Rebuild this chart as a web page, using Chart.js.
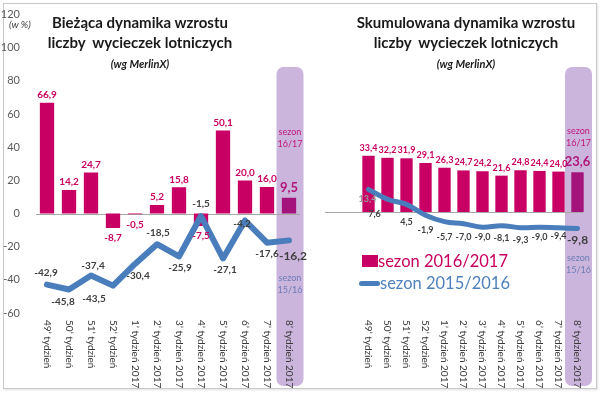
<!DOCTYPE html>
<html>
<head>
<meta charset="utf-8">
<script src="https://cdn.jsdelivr.net/npm/chart.js@4.4.1/dist/chart.umd.min.js"></script>
<style>
  body { margin: 0; background: #fff; font-family: Lato, "Open Sans", sans-serif; }
  #wrap { position: relative; width: 600px; height: 395px; overflow: hidden; }
  #frame { position: absolute; left: 3px; top: 3px; width: 592px; height: 384px; border: 1px solid #c9c9c9; box-shadow: 1px 1px 2px #e0e0e0; }
  canvas { position: absolute; top: 0; }
  .title { position: absolute; text-align: center; font-weight: bold; color: #1a1a1a; font-size: 15px; line-height: 20px; }
  .sub { font-size: 11px; font-style: italic; line-height: 16px; }
  #unit { position: absolute; left: 9px; top: 18px; font-size: 10px; font-style: italic; color: #404040; }
  .legend { position: absolute; font-size: 16.5px; line-height: 20px; white-space: nowrap; }
  .sw { display: inline-block; vertical-align: middle; }
</style>
</head>
<body>
<div id="wrap">
  <div id="frame"></div>
  <canvas id="leftChart" width="310" height="395" style="left:0"></canvas>
  <canvas id="rightChart" width="300" height="395" style="left:300px"></canvas>
  <div id="unit">(w %)</div>
  <div class="title" style="left:20px; width:240px; top:12px;">Bieżąca dynamika wzrostu<br>liczby&nbsp; wycieczek lotniczych<br><span class="sub">(wg MerlinX)</span></div>
  <div class="title" style="left:346px; width:240px; top:12px;">Skumulowana dynamika wzrostu<br>liczby&nbsp; wycieczek lotniczych<br><span class="sub">(wg MerlinX)</span></div>
  <div class="legend" style="left:362px; top:251px; color:#c8005f;"><span class="sw" style="width:16px;height:12px;background:#c80064;margin-top:-3px;"></span>sezon 2016/2017</div>
  <div class="legend" style="left:359px; top:273px; color:#4f81bd;"><span class="sw" style="width:21px;height:5px;background:#4a7dbb;border-radius:3px;margin-top:-3px;"></span>sezon 2015/2016</div>
</div>
<script>
const weeks = ["49\u2019 tydzień", "50\u2019 tydzień", "51\u2019 tydzień", "52\u2019 tydzień",
  "1\u2019 tydzień 2017", "2\u2019 tydzień 2017", "3\u2019 tydzień 2017", "4\u2019 tydzień 2017",
  "5\u2019 tydzień 2017", "6\u2019 tydzień 2017", "7\u2019 tydzień 2017", "8\u2019 tydzień 2017"];

// bieżąca dynamika (tydzień do tygodnia)
const currentSeason = [66.9, 14.2, 24.7, -8.7, -0.5, 5.2, 15.8, -7.5, 50.1, 20.0, 16.0, 9.5];
const currentPrev = [-42.9, -45.8, -37.4, -43.5, -30.4, -18.5, -25.9, -1.5, -27.1, -4.2, -17.6, -16.2];

// skumulowana dynamika
const cumulSeason = [33.4, 32.2, 31.9, 29.1, 26.3, 24.7, 24.2, 21.6, 24.8, 24.4, 24.0, 23.6];
const cumulPrev = [13.4, 7.6, 4.5, -1.9, -5.7, -7.0, -9.0, -8.1, -9.3, -9.0, -9.4, -9.8];

const yTicks = [120, 100, 80, 60, 40, 20, 0, -20, -40, -60];

// offsets of line value labels (px from point)
const leftLineOffsets = [[-1, -12], [-6, 12], [2, -10], [-19, 13], [3, 12], [1, -11], [1, 11], [0, -12], [2, 11], [-3, 3], [0, 11], [4, 16]];
const rightLineOffsets = [[-1, 10], [-13, 15], [0, 18], [0, 15], [0, 15], [0, 13], [0, 10], [0, 12], [0, 12], [0, 10], [0, 8], [0, 12]];

const MAGENTA = '#c80064';
const LAST_BAR = '#a3137b';
const BLUE = '#4a7dbb';
const fmt = v => v.toFixed(1).replace('.', ',');

const overlay = {
    id: 'overlay',
    beforeDatasetsDraw(chart, args, opts) {
        const ctx = chart.ctx;
        const x = chart.scales.x;
        const y = chart.scales.y;
        const last = weeks.length - 1;
        const cx = x.getPixelForValue(last) + 1;
        // highlight of the last week
        ctx.save();
        ctx.fillStyle = '#ccb5dd';
        ctx.beginPath();
        ctx.roundRect(cx - 13.5, 67, 27, 319, 7);
        ctx.fill();
        // zero line
        const y0 = Math.round(y.getPixelForValue(0)) + 0.5;
        ctx.strokeStyle = '#a6a6a6';
        ctx.lineWidth = 1;
        ctx.beginPath();
        ctx.moveTo(opts.zeroFrom, y0);
        ctx.lineTo(chart.chartArea.right + opts.zeroExtra, y0);
        ctx.stroke();
        ctx.restore();
    },
    afterDatasetsDraw(chart, args, opts) {
        const ctx = chart.ctx;
        const x = chart.scales.x;
        const y = chart.scales.y;
        const last = weeks.length - 1;
        ctx.save();
        ctx.textAlign = 'center';
        ctx.textBaseline = 'middle';

        // bar values
        const bars = chart.data.datasets[1].data;
        bars.forEach((v, i) => {
            const px = x.getPixelForValue(i);
            const top = y.getPixelForValue(v);
            const base = y.getPixelForValue(0);
            const big = i === last;
            ctx.font = 'bold ' + (big ? 13 : opts.labelSize) + 'px Lato, sans-serif';
            ctx.fillStyle = big ? '#b0157a' : '#c8005f';
            const ly = v >= 0 ? Math.min(top, base) - (big ? 10 : 8) : Math.max(top, base) + 10;
            ctx.fillText(fmt(v), px, ly);
        });

        // line values
        const line = chart.data.datasets[0].data;
        line.forEach((v, i) => {
            const off = opts.lineOffsets[i];
            const px = x.getPixelForValue(i) + off[0];
            const py = y.getPixelForValue(v) + off[1];
            const big = i === last;
            ctx.font = 'bold ' + (big ? 12 : opts.labelSize) + 'px Lato, sans-serif';
            ctx.fillStyle = (opts.fadeFirst && i === 0) ? '#9a9a9a' : '#3f3f3f';
            ctx.fillText(fmt(v), px, py);
        });

        // season notes in the highlight
        const cx = x.getPixelForValue(last) + 1;
        ctx.font = '9px Lato, sans-serif';
        ctx.fillStyle = '#c0187a';
        ctx.fillText('sezon', cx, opts.notes[0]);
        ctx.fillText('16/17', cx, opts.notes[0] + 12);
        ctx.fillStyle = '#6a7db6';
        ctx.fillText('sezon', cx, opts.notes[1]);
        ctx.fillText('15/16', cx, opts.notes[1] + 12);

        // week labels, rotated downwards
        ctx.font = '10px Lato, sans-serif';
        ctx.fillStyle = '#3a3a3a';
        ctx.textAlign = 'left';
        weeks.forEach((w, i) => {
            ctx.save();
            ctx.translate(x.getPixelForValue(i), 320);
            ctx.rotate(Math.PI / 2);
            ctx.fillText(w, 0, 0);
            ctx.restore();
        });
        ctx.restore();
    }
};

function buildChart(canvasId, bars, line, showAxis, smooth, padding, opts) {
    const canvas = document.getElementById(canvasId);
    return new Chart(canvas, {
        type: 'bar',
        data: {
            labels: weeks,
            datasets: [{
                type: 'line',
                label: 'sezon 2015/2016',
                data: line,
                borderColor: BLUE,
                borderWidth: smooth ? 5 : 6,
                borderCapStyle: 'round',
                borderJoinStyle: 'round',
                pointRadius: 0,
                tension: smooth ? 0.4 : 0,
                fill: false,
                order: 0
            }, {
                label: 'sezon 2016/2017',
                data: bars,
                backgroundColor: bars.map((v, i) => i === bars.length - 1 ? LAST_BAR : MAGENTA),
                barPercentage: 0.65,
                categoryPercentage: 1,
                order: 1
            }]
        },
        options: {
            responsive: false,
            animation: false,
            layout: { padding },
            plugins: {
                legend: { display: false },
                tooltip: { enabled: false },
                overlay: opts
            },
            scales: {
                x: { display: false },
                y: {
                    display: showAxis,
                    min: -60,
                    max: 120,
                    afterBuildTicks: s => { s.ticks = yTicks.map(v => ({ value: v })); },
                    afterFit: s => { s.width = 36; },
                    grid: { display: false },
                    border: { display: false },
                    ticks: {
                        padding: 8,
                        color: '#595959',
                        font: { family: 'Lato, sans-serif', size: 11 }
                    }
                }
            }
        },
        plugins: [overlay]
    });
}

buildChart('leftChart', currentSeason, currentPrev, true, false,
    { top: 10, bottom: 82, left: 0, right: 10 },
    { lineOffsets: leftLineOffsets, notes: [132, 278], zeroFrom: 36, zeroExtra: 0, fadeFirst: false, labelSize: 10 });

buildChart('rightChart', cumulSeason, cumulPrev, false, true,
    { top: 10, bottom: 82, left: 23, right: 13 },
    { lineOffsets: rightLineOffsets, notes: [131, 258], zeroFrom: 25, zeroExtra: -4, fadeFirst: true, labelSize: 9 });
</script>
</body>
</html>
